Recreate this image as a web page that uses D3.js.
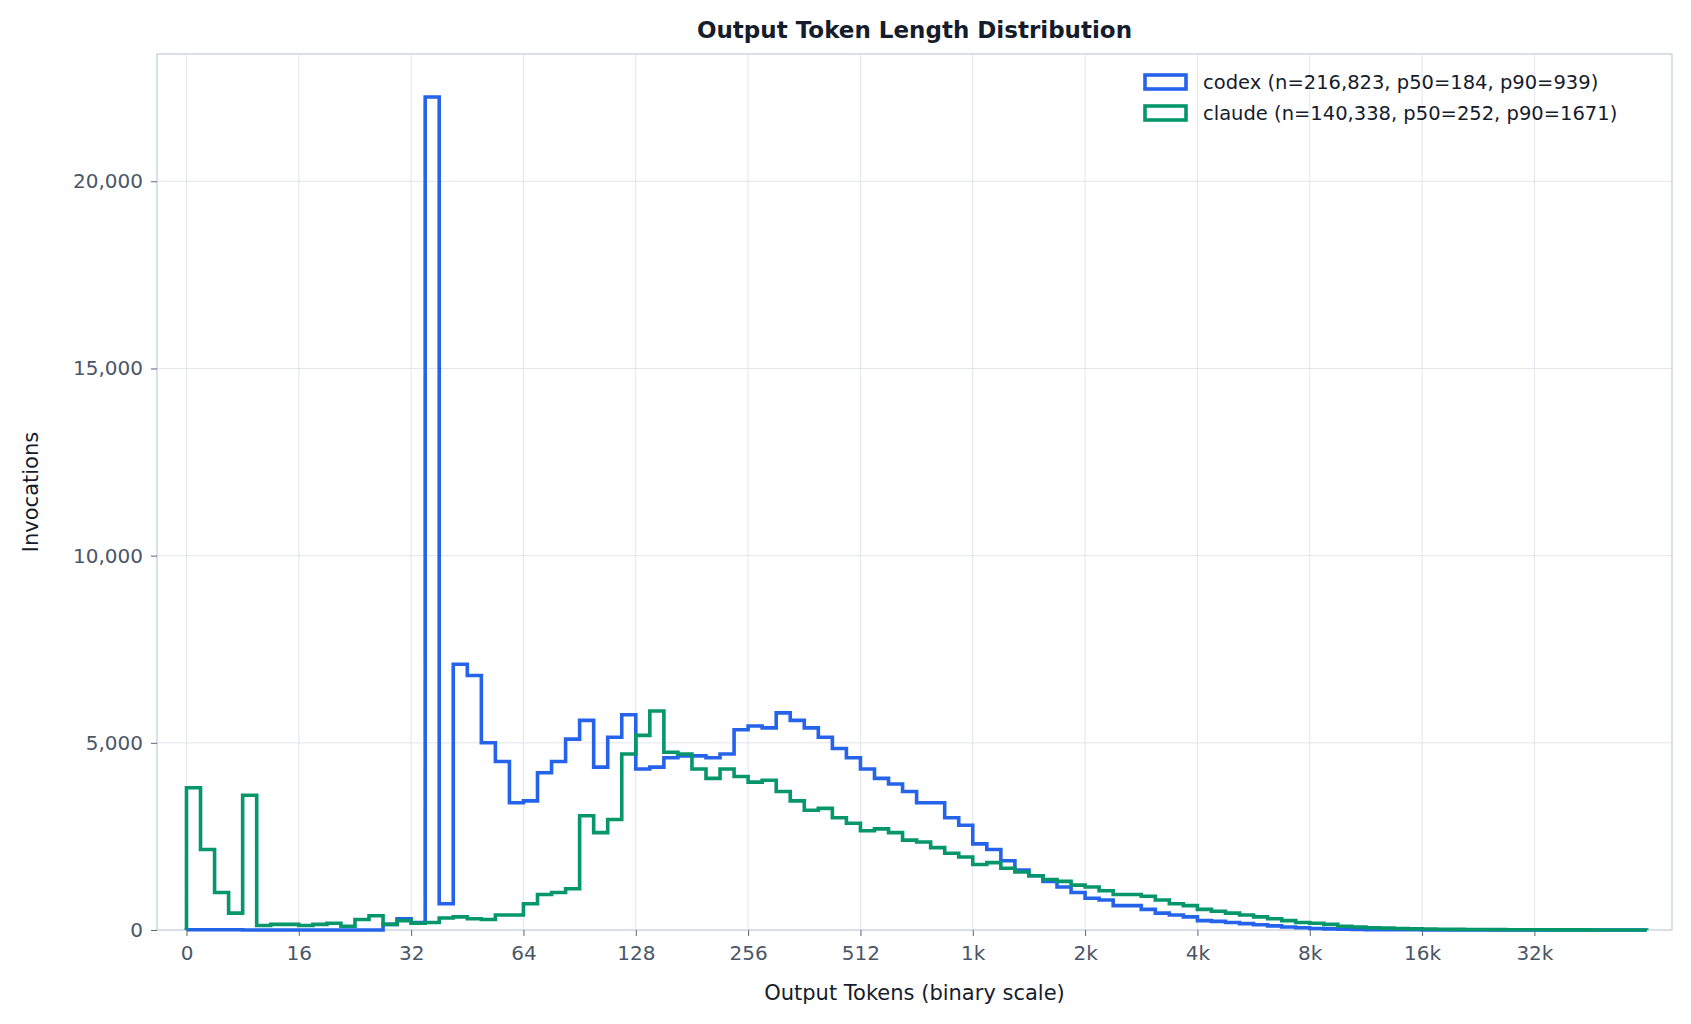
<!DOCTYPE html>
<html>
<head>
<meta charset="utf-8">
<script src="https://cdn.jsdelivr.net/npm/d3@7"></script>
<style>
  body { margin: 0; background: #fff; }
  text { font-family: "DejaVu Sans", sans-serif; }
</style>
</head>
<body>
<script>
// 8 bins per tick step: linear width 2 below 16, then 8 bins per octave
var tickLabels = ["0", "16", "32", "64", "128", "256", "512", "1k", "2k", "4k", "8k", "16k", "32k"];

var codex = [5, 5, 5, 5, 0, 0, 0, 0, 0, 0, 0, 0, 0, 0, 150, 300,
  200, 22250, 700, 7100, 6800, 5000, 4500, 3400,
  3450, 4200, 4500, 5100, 5600, 4350, 5150, 5750,
  4300, 4350, 4600, 4650, 4650, 4600, 4700, 5350,
  5450, 5400, 5800, 5600, 5400, 5150, 4850, 4600,
  4300, 4050, 3900, 3700, 3400, 3400, 3000, 2800,
  2300, 2150, 1850, 1600, 1450, 1300, 1150, 1000,
  850, 800, 650, 650, 550, 450, 400, 350,
  250, 230, 200, 170, 140, 110, 80, 60,
  40, 30, 20, 15, 10, 8, 6, 5,
  4, 3, 3, 2, 2, 1, 1, 1,
  1, 0, 0, 0, 0, 0, 0, 0];

var claude = [3800, 2150, 1000, 450, 3600, 120, 150, 150,
  120, 150, 180, 100, 280, 380, 150, 250,
  180, 200, 320, 350, 300, 280, 400, 400,
  700, 950, 1000, 1100, 3050, 2600, 2950, 4700,
  5200, 5850, 4750, 4700, 4300, 4050, 4300, 4100,
  3950, 4000, 3700, 3450, 3200, 3250, 3000, 2850,
  2650, 2700, 2600, 2400, 2350, 2200, 2050, 1950,
  1750, 1800, 1650, 1550, 1450, 1350, 1300, 1200,
  1150, 1050, 950, 950, 900, 800, 700, 650,
  550, 500, 450, 400, 350, 300, 250, 200,
  180, 150, 100, 80, 60, 50, 40, 30,
  25, 20, 18, 15, 12, 10, 8, 6,
  5, 4, 3, 3, 2, 2, 1, 1];

var series = [
  { name: "codex (n=216,823, p50=184, p90=939)", values: codex, color: "#2563eb" },
  { name: "claude (n=140,338, p50=252, p90=1671)", values: claude, color: "#059669" }
];

var W = 1691, H = 1024;
var margin = { left: 157, right: 19, top: 54, bottom: 94 };

var svg = d3.select("body").append("svg").attr("width", W).attr("height", H);

var x = d3.scaleLinear().domain([-2.1, 105.8]).range([margin.left, W - margin.right]);
var y = d3.scaleLinear().domain([0, 23400]).range([H - margin.bottom, margin.top]);

var tickIdx = tickLabels.map(function (d, i) { return i * 8; });

// grid
svg.append("g").selectAll("line").data(tickIdx).enter().append("line")
  .attr("x1", x).attr("x2", x).attr("y1", margin.top).attr("y2", H - margin.bottom)
  .attr("stroke", "#e2e5ea").attr("stroke-width", 1);
svg.append("g").selectAll("line").data([5000, 10000, 15000, 20000]).enter().append("line")
  .attr("x1", margin.left).attr("x2", W - margin.right).attr("y1", y).attr("y2", y)
  .attr("stroke", "#e2e5ea").attr("stroke-width", 1);

// frame
svg.append("rect").attr("x", margin.left).attr("y", margin.top)
  .attr("width", W - margin.left - margin.right).attr("height", H - margin.top - margin.bottom)
  .attr("fill", "none").attr("stroke", "#c5d0dc").attr("stroke-width", 1.3);

// axes
var xAxis = d3.axisBottom(x).tickValues(tickIdx).tickFormat(function (d, i) { return tickLabels[i]; }).tickSize(6);
var gx = svg.append("g").attr("transform", "translate(0," + (H - margin.bottom) + ")").call(xAxis);
var yAxis = d3.axisLeft(y).tickValues([0, 5000, 10000, 15000, 20000]).tickFormat(d3.format(",")).tickSize(6).tickPadding(8);
var gy = svg.append("g").attr("transform", "translate(" + margin.left + ",0)").call(yAxis);
[gx, gy].forEach(function (g) {
  g.select(".domain").remove();
  g.selectAll(".tick line").attr("stroke", "#5a6678");
  g.selectAll(".tick text").attr("fill", "#4b5668").style("font-size", "20px");
});
gx.selectAll(".tick text").attr("dy", "1.05em");

// step histograms
series.forEach(function (s) {
  var pts = [[0, 0]];
  s.values.forEach(function (v, i) { pts.push([i, v]); pts.push([i + 1, v]); });
  pts.push([s.values.length, 0]);
  var line = d3.line().x(function (d) { return x(d[0]); }).y(function (d) { return y(d[1]); });
  svg.append("path").attr("d", line(pts)).attr("fill", "none")
    .attr("stroke", s.color).attr("stroke-width", 3.6).attr("stroke-linejoin", "miter");
});

// title and labels
svg.append("text").attr("x", (margin.left + W - margin.right) / 2).attr("y", 38)
  .attr("text-anchor", "middle").style("font-size", "23px").style("font-weight", "bold")
  .attr("fill", "#151c2c").text("Output Token Length Distribution");
svg.append("text").attr("x", (margin.left + W - margin.right) / 2).attr("y", 1000)
  .attr("text-anchor", "middle").style("font-size", "21px").attr("fill", "#151c2c")
  .text("Output Tokens (binary scale)");
svg.append("text").attr("transform", "translate(38," + ((margin.top + H - margin.bottom) / 2) + ") rotate(-90)")
  .attr("text-anchor", "middle").style("font-size", "21px").attr("fill", "#151c2c")
  .text("Invocations");

// legend
var lg = svg.append("g").attr("transform", "translate(1145,75)");
series.forEach(function (s, i) {
  var r = lg.append("g").attr("transform", "translate(0," + (i * 31) + ")");
  r.append("rect").attr("width", 41).attr("height", 14).attr("fill", "none")
    .attr("stroke", s.color).attr("stroke-width", 3.6);
  r.append("text").attr("x", 58).attr("y", 14).style("font-size", "19.5px")
    .attr("fill", "#151c2c").text(s.name);
});
</script>
</body>
</html>
